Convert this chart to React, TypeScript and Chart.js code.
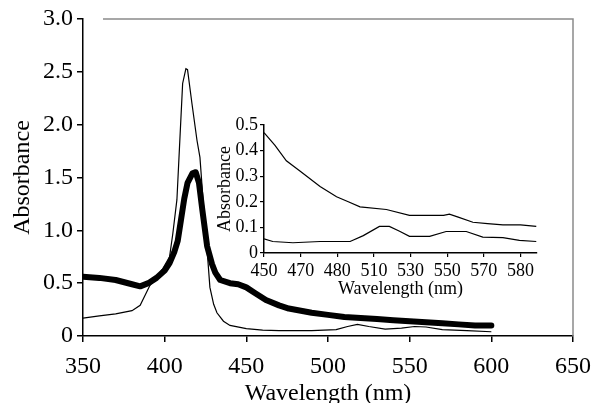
import React, { useEffect, useRef } from "react";
import { Chart, registerables } from "chart.js";

Chart.register(...registerables);

// Main chart data (wavelength nm, absorbance)
const thinWavelengths = [350, 360, 370, 380, 385, 391, 399, 403, 405, 407.5, 409.5, 411, 413, 414, 416.7, 419.8, 421.6, 423.5, 426, 427.7, 430, 432, 436, 440, 450, 460, 470, 490, 505, 512, 518, 525, 535, 545, 553, 560, 570, 585, 600];
const thinAbsorbance = [0.17, 0.19, 0.21, 0.24, 0.29, 0.48, 0.64, 0.75, 0.97, 1.29, 1.92, 2.39, 2.53, 2.52, 2.2, 1.85, 1.69, 1.29, 0.81, 0.46, 0.3, 0.22, 0.14, 0.1, 0.07, 0.055, 0.05, 0.05, 0.06, 0.09, 0.11, 0.09, 0.065, 0.075, 0.09, 0.085, 0.06, 0.05, 0.04];

const boldWavelengths = [350, 360, 370, 380, 385, 390, 395, 400, 403, 406, 408, 410, 412, 414, 417, 419, 421, 423, 426, 429, 431, 434, 440, 445, 450, 455, 462, 470, 476, 490, 500, 510, 520, 530, 540, 550, 560, 570, 580, 590, 600];
const boldAbsorbance = [0.56, 0.55, 0.53, 0.49, 0.47, 0.5, 0.55, 0.62, 0.69, 0.8, 0.9, 1.1, 1.3, 1.45, 1.54, 1.55, 1.45, 1.2, 0.85, 0.68, 0.6, 0.53, 0.5, 0.49, 0.46, 0.41, 0.34, 0.29, 0.26, 0.22, 0.2, 0.18, 0.17, 0.16, 0.15, 0.14, 0.13, 0.12, 0.11, 0.1, 0.1];

const mainXTicks = [350, 400, 450, 500, 550, 600, 650];
const mainYTicks = [0, 0.5, 1.0, 1.5, 2.0, 2.5, 3.0];

// Inset data: x positions on the inset's evenly spaced tick scale
const insetTickLabels = ["450", "470", "480", "510", "530", "550", "570", "580"];
const insetYTicks = [0, 0.1, 0.2, 0.3, 0.4, 0.5];

const insetUpperPos = [0, 0.3, 0.61, 0.98, 1.53, 1.98, 2.3, 2.62, 3.34, 3.97, 4.5, 4.9, 5.06, 5.3, 5.7, 6.1, 6.52, 7.0, 7.43];
const insetUpperAbs = [0.47, 0.42, 0.36, 0.32, 0.26, 0.22, 0.2, 0.18, 0.17, 0.147, 0.147, 0.147, 0.152, 0.14, 0.12, 0.115, 0.11, 0.11, 0.104];

const insetLowerPos = [0, 0.24, 0.79, 1.53, 2.35, 2.71, 3.15, 3.42, 3.7, 3.97, 4.52, 4.97, 5.52, 5.97, 6.52, 6.97, 7.43];
const insetLowerAbs = [0.055, 0.045, 0.04, 0.045, 0.045, 0.068, 0.104, 0.104, 0.085, 0.065, 0.065, 0.084, 0.084, 0.062, 0.06, 0.049, 0.045];

const FONT = "'Liberation Serif', 'DejaVu Serif', serif";

const frameColor = "#8a8a8a";

const framePlugin = {
  id: "frame",
  afterDraw(chart: any) {
    const { ctx, chartArea } = chart;
    ctx.save();
    ctx.strokeStyle = frameColor;
    ctx.lineWidth = 1.5;
    ctx.beginPath();
    ctx.moveTo(chartArea.left + 20, chartArea.top);
    ctx.lineTo(chartArea.right, chartArea.top);
    ctx.lineTo(chartArea.right, chartArea.bottom);
    ctx.stroke();
    ctx.restore();
  },
};

function toPoints(xs: number[], ys: number[]) {
  return xs.map((x, i) => ({ x, y: ys[i] }));
}

export default function App() {
  const mainRef = useRef<HTMLCanvasElement>(null);
  const insetRef = useRef<HTMLCanvasElement>(null);

  useEffect(() => {
    const main = new Chart(mainRef.current!, {
      type: "line",
      data: {
        datasets: [
          {
            data: toPoints(thinWavelengths, thinAbsorbance),
            borderColor: "#000",
            borderWidth: 1.2,
            pointRadius: 0,
            tension: 0,
          },
          {
            data: toPoints(boldWavelengths, boldAbsorbance),
            borderColor: "#000",
            borderWidth: 6,
            pointRadius: 0,
            tension: 0,
            borderJoinStyle: "round",
            borderCapStyle: "round",
          },
        ],
      },
      options: {
        animation: false,
        responsive: false,
        maintainAspectRatio: false,
        layout: { padding: { top: 19, right: 20, left: 0, bottom: 0 } },
        plugins: { legend: { display: false }, tooltip: { enabled: false } },
        scales: {
          x: {
            type: "linear",
            min: 350,
            max: 650,
            afterBuildTicks: (s: any) => {
              s.ticks = mainXTicks.map((v) => ({ value: v }));
            },
            afterFit: (s: any) => {
              s.height = 67;
              s.paddingLeft = 0;
              s.paddingRight = 0;
            },
            ticks: {
              color: "#000",
              font: { family: FONT, size: 24 },
              padding: 10,
              maxRotation: 0,
              callback: (v: any) => String(v),
            },
            grid: { display: true, drawOnChartArea: false, drawTicks: true, tickLength: 6, color: "#000", lineWidth: 1.5 },
            border: { display: true, color: "#000", width: 1.5 },
            title: { display: true, text: "Wavelength (nm)", color: "#000", font: { family: FONT, size: 24, lineHeight: 0.75 }, padding: { top: 0, bottom: 0 } },
          },
          y: {
            type: "linear",
            min: 0,
            max: 3,
            afterBuildTicks: (s: any) => {
              s.ticks = mainYTicks.map((v) => ({ value: v }));
            },
            afterFit: (s: any) => {
              s.width = 83;
              s.paddingTop = 0;
              s.paddingBottom = 0;
            },
            ticks: {
              color: "#000",
              font: { family: FONT, size: 24 },
              padding: 4,
              callback: (v: any) => (v === 0 ? "0" : Number(v).toFixed(1)),
            },
            grid: { display: true, drawOnChartArea: false, drawTicks: true, tickLength: 6, color: "#000", lineWidth: 1.5 },
            border: { display: true, color: "#000", width: 1.5 },
            title: { display: true, text: "Absorbance", color: "#000", font: { family: FONT, size: 24 }, padding: { top: 8, bottom: 0 } },
          },
        },
      },
      plugins: [framePlugin],
    } as any);

    const inset = new Chart(insetRef.current!, {
      type: "line",
      data: {
        datasets: [
          {
            data: toPoints(insetUpperPos, insetUpperAbs),
            borderColor: "#000",
            borderWidth: 1.2,
            pointRadius: 0,
            tension: 0,
          },
          {
            data: toPoints(insetLowerPos, insetLowerAbs),
            borderColor: "#000",
            borderWidth: 1.2,
            pointRadius: 0,
            tension: 0,
          },
        ],
      },
      options: {
        animation: false,
        responsive: false,
        maintainAspectRatio: false,
        layout: { padding: { top: 15, right: 13, left: 0, bottom: 0 } },
        plugins: { legend: { display: false }, tooltip: { enabled: false } },
        scales: {
          x: {
            type: "linear",
            min: 0,
            max: 7.45,
            afterBuildTicks: (s: any) => {
              s.ticks = insetTickLabels.map((_, i) => ({ value: i }));
            },
            afterFit: (s: any) => {
              s.height = 47;
              s.paddingLeft = 0;
              s.paddingRight = 0;
            },
            ticks: {
              color: "#000",
              font: { family: FONT, size: 18 },
              padding: 3,
              maxRotation: 0,
              autoSkip: false,
              callback: (v: any) => insetTickLabels[Math.round(Number(v))] ?? "",
            },
            grid: { display: true, drawOnChartArea: false, drawTicks: true, tickLength: 4, color: "#000", lineWidth: 1.2 },
            border: { display: true, color: "#000", width: 1.5 },
            title: { display: true, text: "Wavelength (nm)", color: "#000", font: { family: FONT, size: 18 }, padding: { top: 0, bottom: 0 } },
          },
          y: {
            type: "linear",
            min: 0,
            max: 0.5,
            afterBuildTicks: (s: any) => {
              s.ticks = insetYTicks.map((v) => ({ value: v }));
            },
            afterFit: (s: any) => {
              s.width = 50;
              s.paddingTop = 0;
              s.paddingBottom = 0;
            },
            ticks: {
              color: "#000",
              font: { family: FONT, size: 18 },
              padding: 2,
              callback: (v: any) => (v === 0 ? "0" : Number(v).toFixed(1)),
            },
            grid: { display: true, drawOnChartArea: false, drawTicks: true, tickLength: 4, color: "#000", lineWidth: 1.2 },
            border: { display: true, color: "#000", width: 1.5 },
            title: { display: true, text: "Absorbance", color: "#000", font: { family: FONT, size: 18 }, padding: { top: 0, bottom: 0 } },
          },
        },
      },
    } as any);

    return () => {
      main.destroy();
      inset.destroy();
    };
  }, []);

  return (
    <div style={{ position: "fixed", left: 0, top: 0, width: 593, height: 403, background: "#fff" }}>
      <canvas ref={mainRef} width={593} height={403} style={{ position: "absolute", left: 0, top: 0, width: 593, height: 403 }} />
      <canvas ref={insetRef} width={336} height={190} style={{ position: "absolute", left: 214, top: 110, width: 336, height: 190 }} />
    </div>
  );
}
